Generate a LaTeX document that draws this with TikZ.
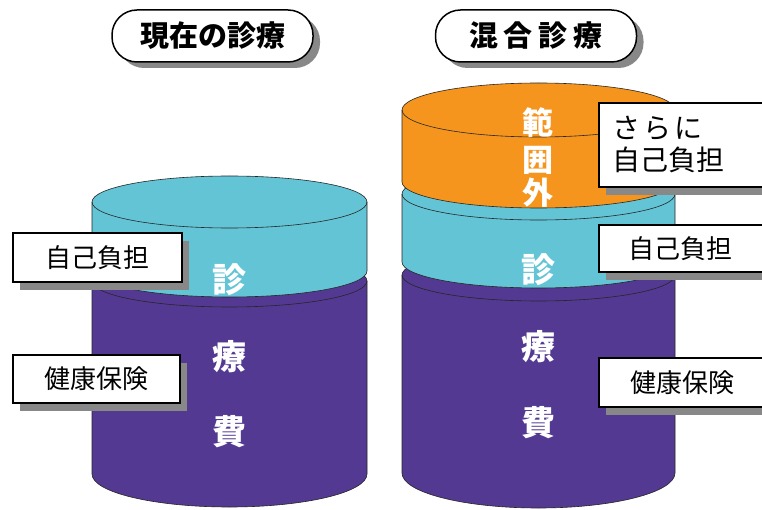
\documentclass[tikz,border=0pt]{standalone}
\usepackage{fontspec}
\newfontfamily\cjk{Noto Sans CJK JP}
\usetikzlibrary{shadows}
\definecolor{cylcyan}{RGB}{98,196,213}
\definecolor{cylpurple}{RGB}{83,57,145}
\definecolor{cylorange}{RGB}{245,149,29}
\definecolor{shadowgray}{RGB}{136,136,136}
\newcommand{\cylseg}[7]{%
  \filldraw[cylline, fill=#7] (#1-#2,#3) -- (#1-#2,#4)
    arc[start angle=180,end angle=360,x radius=#2pt,y radius=#6pt]
    -- (#1+#2,#3)
    arc[start angle=0,end angle=180,x radius=#2pt,y radius=#5pt] -- cycle;
  \draw[cylline] (#1-#2,#3) arc[start angle=180,end angle=360,x radius=#2pt,y radius=#5pt];
}
\begin{document}
\begin{tikzpicture}[x=1pt,y=1pt,
  cylline/.style={draw=black!85, line width=0.6pt},
  labelbox/.style={draw=black, line width=2pt, fill=white, inner sep=0pt,
    general shadow={fill=shadowgray, shadow xshift=7pt, shadow yshift=-8pt}},
  labeltext/.style={inner sep=0pt, font=\cjk\fontsize{26pt}{32pt}\selectfont},
  titlepill/.style={draw=black, line width=1.5pt, fill=white, rounded corners=25pt,
    minimum width=201pt, minimum height=52pt, inner sep=0pt,
    general shadow={fill=shadowgray, shadow xshift=7pt, shadow yshift=-6pt},
    font=\cjk\bfseries\fontsize{29pt}{32pt}\selectfont},
  cyltext/.style={text=white, inner sep=0pt, font=\cjk\bfseries\fontsize{34pt}{36pt}\selectfont},
  cyltextsmall/.style={text=white, inner sep=0pt, font=\cjk\bfseries\fontsize{31pt}{34pt}\selectfont}]
\clip (0,0) rectangle (762,509);
\fill[white] (0,0) rectangle (762,509);

% left cylinder
\cylseg{229.5}{137.5}{228}{35}{26}{33}{cylpurple}
\cylseg{229.5}{137.5}{307}{238}{26}{26}{cylcyan}

% right cylinder
\cylseg{538.5}{136.5}{234}{36}{26}{35}{cylpurple}
\cylseg{538.5}{136.5}{315}{247}{26}{26}{cylcyan}
\cylseg{538.5}{136.5}{399}{327}{27}{26}{cylorange}

% titles
\node[titlepill] (tnow) at (212.5,473) {現在の診療};
\node[titlepill] (tmix) at (536,473) {混\hspace{6pt}合\hspace{6pt}診\hspace{6pt}療};

% left labels
\node[labelbox, minimum width=169pt, minimum height=49pt] (lself) at (97.5,251.5) {};
\node[labeltext] (lselft) at (97.5,251.5) {自己負担};
\node[labelbox, minimum width=167pt, minimum height=48pt] (lins) at (96.5,130) {};
\node[labeltext] (linst) at (96.5,130) {健康保険};

% right labels
\node[labelbox, anchor=west, minimum width=230pt, minimum height=84pt] (rmore) at (598,364) {};
\node[labeltext, anchor=west, align=left, font=\cjk\fontsize{28pt}{32pt}\selectfont] (rmoret) at (612,364) {さ\hspace{3pt}ら\hspace{3pt}に\\自己負担};
\node[labelbox, anchor=west, minimum width=230pt, minimum height=47pt] (rself) at (598,260.5) {};
\node[labeltext] (rselft) at (680.5,260.5) {自己負担};
\node[labelbox, anchor=west, minimum width=230pt, minimum height=49pt] (rins) at (598,126.5) {};
\node[labeltext] (rinst) at (682.5,126.5) {健康保険};

% cylinder texts
\node[cyltext] (l1) at (229,229) {診};
\node[cyltext] (l2) at (229,152) {療};
\node[cyltext] (l3) at (229,77) {費};
\node[cyltextsmall] (r0a) at (538,386) {範};
\node[cyltextsmall] (r0b) at (538,349) {囲};
\node[cyltextsmall] (r0c) at (538,316) {外};
\node[cyltext] (r1) at (538,239) {診};
\node[cyltext] (r2) at (538,162) {療};
\node[cyltext] (r3) at (538,86) {費};
\end{tikzpicture}
\end{document}
